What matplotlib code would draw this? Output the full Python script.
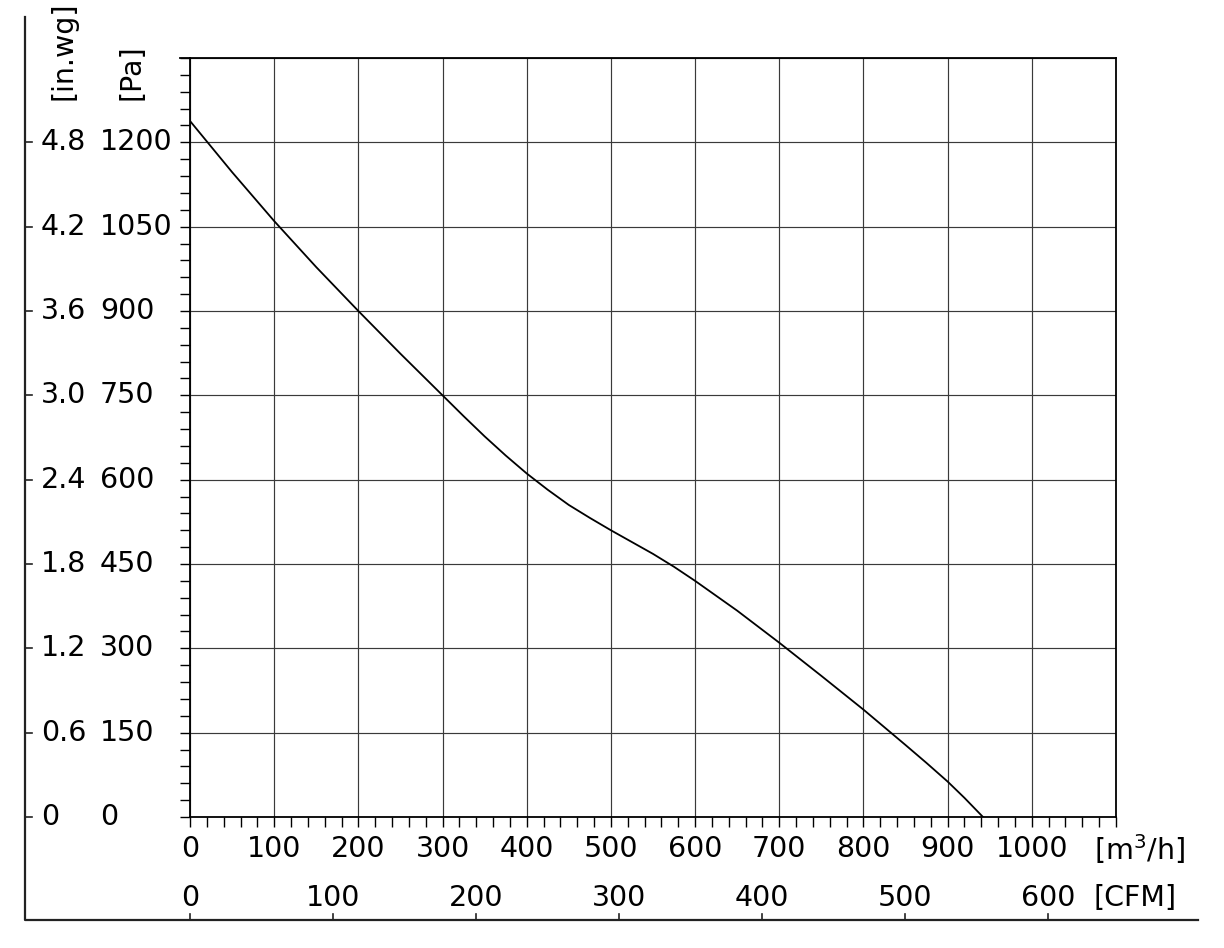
import matplotlib
matplotlib.use("Agg")
import matplotlib.pyplot as plt
from matplotlib.lines import Line2D
from matplotlib.transforms import blended_transform_factory
import numpy as np

# fan curve: flow [m3/h] vs static pressure [Pa]
flow = [0, 50, 100, 150, 200, 250, 300, 325, 350, 375, 400, 425, 450, 475, 500, 525, 550,
        575, 600, 650, 700, 750, 800, 850, 875, 900, 920, 942]
pressure = [1238, 1147, 1060, 978, 900, 824, 750, 713, 677, 643, 611, 582, 555, 532, 510, 489,
            468, 445, 420, 367, 310, 251, 191, 128, 96, 63, 34, 0]

pa_ticks = [0, 150, 300, 450, 600, 750, 900, 1050, 1200]
inwg_labels = ["0", "0.6", "1.2", "1.8", "2.4", "3.0", "3.6", "4.2", "4.8"]
m3h_ticks = [0, 100, 200, 300, 400, 500, 600, 700, 800, 900, 1000]
cfm_ticks = [0, 100, 200, 300, 400, 500, 600]
M3H_PER_CFM = 1.699

W, H = 1224, 948
FS = 20.5


def fx(px):
    return px / W


def fy(py):
    return 1 - py / H


fig = plt.figure(figsize=(W / 100, H / 100), dpi=100)
ax = fig.add_axes([fx(190), fy(817), fx(1116) - fx(190), fy(58) - fy(817)])

ax.plot(flow, pressure, color="black", lw=1.3, solid_joinstyle="round")

ax.set_xlim(0, 1100)
ax.set_ylim(0, 1350)
ax.set_xticks(np.arange(0, 1101, 100))
ax.set_xticks(np.arange(0, 1101, 20), minor=True)
ax.set_yticks(np.arange(0, 1351, 150))
ax.set_yticks(np.arange(0, 1351, 30), minor=True)
ax.tick_params(which="both", direction="out", length=7.2, width=1.0, color="black",
               labelbottom=False, labelleft=False)
ax.grid(True, which="major", color="#3a3a3a", lw=0.85)
for s in ax.spines.values():
    s.set_linewidth(1.3)
    s.set_color("black")

# top spine runs out to the left like the grid lines
ax.plot([-0.0108, 0], [1, 1], transform=ax.transAxes, color="black", lw=1.3, clip_on=False)

ty = blended_transform_factory(fig.transFigure, ax.transData)
tx = blended_transform_factory(ax.transData, fig.transFigure)

# pressure labels
for p, lab in zip(pa_ticks, inwg_labels):
    ax.text(fx(41), p, lab, transform=ty, ha="left", va="center", fontsize=FS)
    ax.text(fx(100), p, str(p), transform=ty, ha="left", va="center", fontsize=FS)

ax.text(fx(64), fy(100), "[in.wg]", transform=fig.transFigure, rotation=90,
        ha="center", va="bottom", fontsize=FS)
ax.text(fx(131), fy(100), "[Pa]", transform=fig.transFigure, rotation=90,
        ha="center", va="bottom", fontsize=FS)

# flow labels
for q in m3h_ticks:
    ax.text(q, fy(849), str(q), transform=tx, ha="center", va="center", fontsize=FS)
for c in cfm_ticks:
    ax.text(c * M3H_PER_CFM, fy(898), str(c), transform=tx, ha="center", va="center", fontsize=FS)
ax.text(fx(1094), fy(849), "[m$^3$/h]", transform=fig.transFigure, ha="left", va="center",
        fontsize=FS)
ax.text(fx(1094), fy(898), "[CFM]", transform=fig.transFigure, ha="left", va="center",
        fontsize=FS)

# outer L frame with its own ticks
fig.add_artist(Line2D([fx(25), fx(25), fx(1198)], [fy(17), fy(920), fy(920)],
                      color="#222222", lw=1.6))
for p in pa_ticks:
    fig.add_artist(Line2D([fx(25), fx(32)], [p, p], transform=ty, color="#222222", lw=1.2))
for c in cfm_ticks:
    fig.add_artist(Line2D([c * M3H_PER_CFM] * 2, [fy(920), fy(914)], transform=tx,
                          color="#222222", lw=1.2))

fig.savefig("out.png", dpi=100)
